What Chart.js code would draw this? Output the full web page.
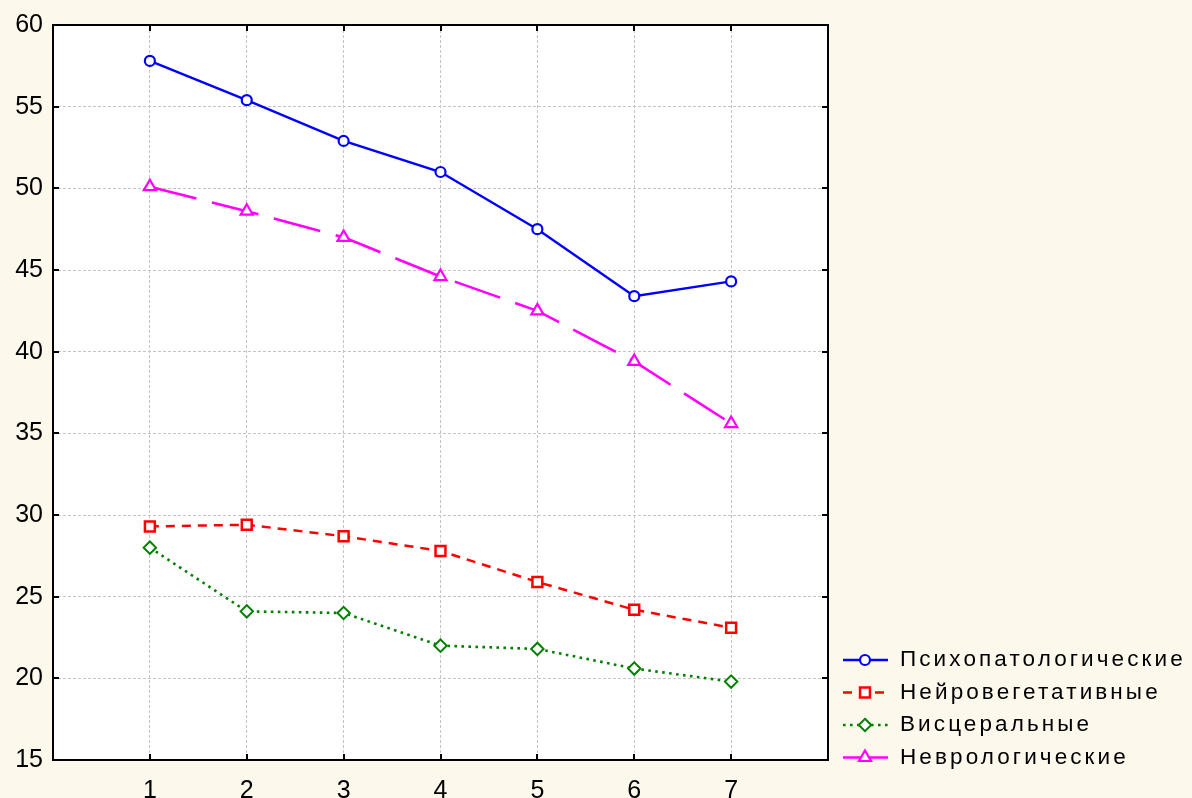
<!DOCTYPE html>
<html>
<head>
<meta charset="utf-8">
<script src="https://cdn.jsdelivr.net/npm/chart.js"></script>
<style>
    html, body { margin: 0; padding: 0; background: #fdf8ec; overflow: hidden; }
    #wrap { width: 1192px; height: 798px; overflow: hidden; }
</style>
</head>
<body>
<div id="wrap"><canvas id="c" width="1192" height="810"></canvas></div>
<script>
// Data
const categories = [1, 2, 3, 4, 5, 6, 7];
const seriesNames = ['Психопатологические', 'Нейровегетативные', 'Висцеральные', 'Неврологические'];
const psycho = [57.8, 55.4, 52.9, 51.0, 47.5, 43.4, 44.3];
const neuroVeg = [29.3, 29.4, 28.7, 27.8, 25.9, 24.2, 23.1];
const visceral = [28.0, 24.1, 24.0, 22.0, 21.8, 20.6, 19.8];
const neuro = [50.1, 48.6, 47.0, 44.6, 42.5, 39.4, 35.6];
const yTicks = [15, 20, 25, 30, 35, 40, 45, 50, 55, 60];

const FONT = '"Liberation Sans", Arial, sans-serif';

function pts(vals) {
    return categories.map((c, i) => ({ x: c, y: vals[i] }));
}

function series(label, vals, color, width, dash, style, radius, pbw) {
    return {
        label: label,
        data: pts(vals),
        borderColor: color,
        borderWidth: width,
        borderDash: dash,
        borderCapStyle: 'butt',
        pointStyle: style,
        pointRadius: radius,
        pointHoverRadius: radius,
        pointBorderWidth: pbw,
        pointBorderColor: color,
        pointBackgroundColor: '#ffffff',
        tension: 0,
        fill: false
    };
}

// white plot area
const plotBg = {
    id: 'plotBg',
    beforeDraw(chart) {
        const a = chart.chartArea, ctx = chart.ctx;
        ctx.save();
        ctx.fillStyle = '#ffffff';
        ctx.fillRect(a.left, a.top, a.right - a.left, a.bottom - a.top);
        ctx.restore();
    }
};

// black frame with inward tick marks
const frame = {
    id: 'frame',
    afterDatasetsDraw(chart) {
        const a = chart.chartArea, ctx = chart.ctx;
        const xs = chart.scales.x, ys = chart.scales.y;
        ctx.save();
        ctx.strokeStyle = '#000';
        ctx.lineWidth = 2;
        ctx.setLineDash([]);
        ctx.strokeRect(a.left, a.top, a.right - a.left, a.bottom - a.top);
        ctx.beginPath();
        yTicks.forEach(v => {
            const y = Math.round(ys.getPixelForValue(v));
            ctx.moveTo(a.left, y); ctx.lineTo(a.left + 6, y);
            ctx.moveTo(a.right, y); ctx.lineTo(a.right - 6, y);
        });
        categories.forEach(v => {
            const x = Math.round(xs.getPixelForValue(v));
            ctx.moveTo(x, a.top); ctx.lineTo(x, a.top + 6);
            ctx.moveTo(x, a.bottom); ctx.lineTo(x, a.bottom - 6);
        });
        ctx.stroke();
        ctx.restore();
    }
};

function marker(ctx, style, r, x, y) {
    ctx.beginPath();
    if (style === 'circle') {
        ctx.arc(x, y, r, 0, Math.PI * 2);
    } else if (style === 'rect') {
        const s = r * Math.SQRT1_2;
        ctx.rect(x - s, y - s, 2 * s, 2 * s);
    } else if (style === 'rectRot') {
        ctx.moveTo(x, y - r); ctx.lineTo(x + r, y); ctx.lineTo(x, y + r); ctx.lineTo(x - r, y);
        ctx.closePath();
    } else if (style === 'triangle') {
        ctx.moveTo(x, y - r);
        ctx.lineTo(x + r * 0.866, y + r * 0.5);
        ctx.lineTo(x - r * 0.866, y + r * 0.5);
        ctx.closePath();
    }
    ctx.fill();
    ctx.stroke();
}

// legend on the right: line sample + marker + text
const sideLegend = {
    id: 'sideLegend',
    afterDraw(chart) {
        const ctx = chart.ctx;
        ctx.save();
        chart.data.datasets.forEach((ds, i) => {
            const y = 660 + i * 32.5;
            ctx.strokeStyle = ds.borderColor;
            ctx.lineWidth = ds.borderWidth;
            ctx.setLineDash(ds.borderDash);
            ctx.beginPath();
            ctx.moveTo(843, y); ctx.lineTo(888, y);
            ctx.stroke();
            ctx.setLineDash([]);
            ctx.fillStyle = '#fff';
            ctx.lineWidth = ds.pointBorderWidth;
            marker(ctx, ds.pointStyle, ds.pointRadius, 865, y);
            ctx.fillStyle = '#000';
            ctx.font = '22.5px ' + FONT;
            ctx.letterSpacing = '3.1px';
            ctx.textBaseline = 'middle';
            ctx.textAlign = 'left';
            ctx.fillText(ds.label, 900, y);
            ctx.letterSpacing = '0px';
        });
        ctx.restore();
    }
};

new Chart(document.getElementById('c'), {
    type: 'line',
    data: {
        datasets: [
            series(seriesNames[0], psycho, '#0000ff', 2.4, [], 'circle', 5, 2.2),
            series(seriesNames[1], neuroVeg, '#ff0000', 2.5, [9, 7], 'rect', 7, 2.5),
            series(seriesNames[2], visceral, '#008000', 2.6, [2.6, 4.4], 'rectRot', 6.2, 2),
            series(seriesNames[3], neuro, '#ff00ff', 2.6, [48, 16], 'triangle', 7, 2.2)
        ]
    },
    options: {
        responsive: false,
        animation: false,
        devicePixelRatio: 1,
        layout: {
            padding: { top: 22, right: 364, left: 0, bottom: 0 }
        },
        plugins: {
            legend: { display: false },
            tooltip: { enabled: false }
        },
        scales: {
            x: {
                type: 'linear',
                min: 0,
                max: 8,
                afterBuildTicks: s => { s.ticks = categories.map(v => ({ value: v })); },
                afterFit: s => { s.height = 50; },
                grid: {
                    color: '#c4c4c4',
                    lineWidth: 1,
                    drawTicks: false
                },
                border: { display: false, dash: [3, 2] },
                ticks: {
                    color: '#000',
                    font: { family: FONT, size: 25 },
                    padding: 16,
                    maxRotation: 0,
                    autoSkip: false
                }
            },
            y: {
                min: 15,
                max: 60,
                afterBuildTicks: s => { s.ticks = yTicks.map(v => ({ value: v })); },
                afterFit: s => { s.width = 53; },
                grid: {
                    color: '#c4c4c4',
                    lineWidth: 1,
                    drawTicks: false
                },
                border: { display: false, dash: [3, 2] },
                ticks: {
                    color: '#000',
                    font: { family: FONT, size: 25 },
                    padding: 10
                }
            }
        }
    },
    plugins: [plotBg, frame, sideLegend]
});
</script>
</body>
</html>
